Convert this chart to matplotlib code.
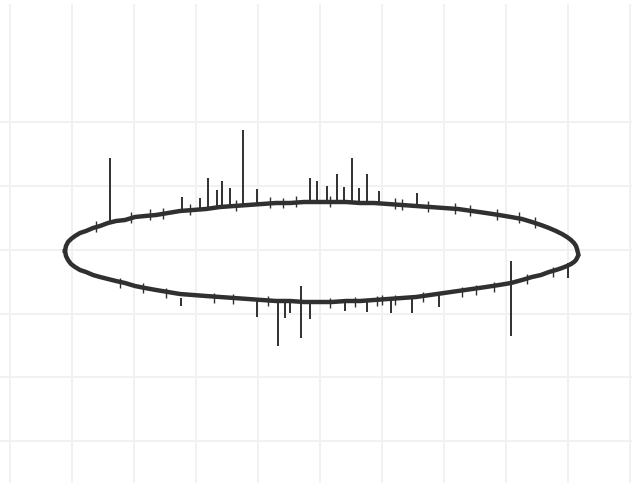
import matplotlib
matplotlib.use("Agg")
import matplotlib.pyplot as plt

# trace, in pixel units (y down)
edge_x = [65, 66, 68, 71, 75, 80, 86, 93, 100, 108, 116, 125, 135, 145, 156, 168, 180, 193, 206, 220,
          234, 248, 262, 276, 290, 304, 318, 332, 346, 360, 374, 388, 402, 416, 430, 444, 458, 472, 486,
          499, 511, 522, 532, 541, 549, 556, 562, 567, 571, 574, 576, 577, 578]
upper_y = [251, 246, 242, 239, 236, 233, 231, 228, 226, 223, 221, 220, 217, 216, 215, 213, 211, 210, 209, 207,
           206, 205, 204, 203, 203, 202, 202, 202, 202, 203, 203, 204, 205, 206, 207, 208, 209, 211, 213,
           215, 217, 219, 222, 225, 228, 231, 234, 237, 240, 243, 246, 249, 253]
lower_y = [251, 256, 260, 264, 267, 270, 272, 275, 277, 279, 281, 283, 286, 288, 290, 292, 294, 295, 296, 297,
           298, 299, 300, 301, 301, 302, 302, 302, 301, 301, 300, 299, 298, 297, 295, 293, 291, 289, 287,
           285, 283, 280, 277, 275, 272, 270, 268, 266, 264, 262, 260, 258, 256]

# spikes: x, top, bottom
spike_x = [110, 182, 200, 208, 217, 222, 230, 243, 257, 310, 317, 327, 337, 344, 352, 359, 367, 379, 417,
           181, 257, 278, 285, 290, 301, 310, 345, 367, 391, 412, 439, 511, 568]
spike_top = [158, 197, 198, 178, 190, 181, 188, 130, 189, 178, 181, 186, 174, 187, 158, 188, 174, 191, 193,
             298, 299, 300, 300, 300, 286, 301, 300, 299, 298, 297, 293, 261, 263]
spike_bot = [222, 210, 208, 208, 207, 207, 206, 206, 204, 203, 203, 203, 203, 203, 203, 203, 203, 204, 206,
             306, 317, 346, 318, 313, 338, 319, 311, 312, 313, 313, 307, 336, 278]

# small hairs along the trace
hair_x = [96, 131, 150, 163, 190, 236, 270, 283, 296, 330, 395, 402, 428, 455, 470, 497, 519, 535,
          120, 143, 166, 214, 233, 268, 330, 355, 377, 382, 395, 423, 462, 476, 494, 527, 553]
hair_top = [221, 212, 209, 208, 204, 200, 197, 198, 196, 196, 198, 199, 201, 203, 205, 209, 212, 217,
            278, 283, 288, 293, 294, 296, 298, 297, 296, 295, 295, 292, 287, 285, 282, 274, 267]
hair_bot = [232, 223, 220, 219, 215, 211, 208, 208, 207, 207, 209, 210, 212, 214, 216, 220, 223, 228,
            288, 293, 298, 303, 304, 306, 308, 307, 306, 305, 305, 302, 297, 295, 292, 284, 277]

grid_x = [10, 72, 134, 196, 258, 320, 382, 444, 506, 568, 630]
grid_y = [122, 186, 250, 314, 377, 441]

fig = plt.figure(figsize=(6.32, 4.88), dpi=100)
ax = fig.add_axes([0, 0, 1, 1])
ax.set_xlim(0, 632)
ax.set_ylim(488, 0)

for gx in grid_x:
    ax.plot([gx, gx], [5, 482], color="#f1f1f1", lw=1.4, zorder=1)
for gy in grid_y:
    ax.plot([0, 632], [gy, gy], color="#f1f1f1", lw=1.4, zorder=1)

tc = "#303030"
ax.plot(edge_x, upper_y, color=tc, lw=3.2, solid_joinstyle="round", zorder=3)
ax.plot(edge_x, lower_y, color=tc, lw=3.2, solid_joinstyle="round", zorder=3)
ax.vlines(spike_x, spike_top, spike_bot, color=tc, lw=1.4, zorder=3)
ax.vlines(hair_x, hair_top, hair_bot, color=tc, lw=1.0, zorder=3)

ax.axis("off")
fig.savefig("out.png", dpi=100, facecolor="white")
